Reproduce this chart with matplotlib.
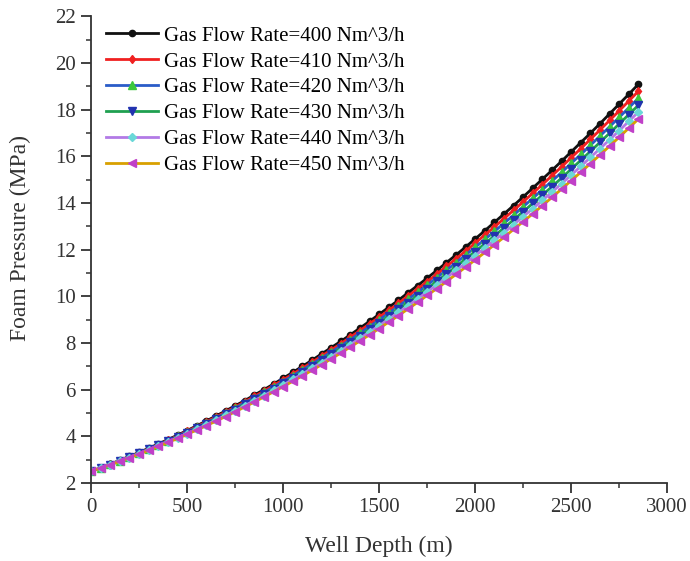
import numpy as np
import matplotlib
matplotlib.use("Agg")
import matplotlib.pyplot as plt
from matplotlib.ticker import MultipleLocator

plt.rcParams['font.family'] = ['Liberation Serif', 'DejaVu Serif']

# well depth (m), one sample every 50 m
depth = list(range(0, 2851, 50))

# foam pressure (MPa)
p400 = [2.50, 2.65, 2.81, 2.97, 3.14, 3.31, 3.49, 3.67, 3.86, 4.05, 4.25, 4.45, 4.66, 4.87, 5.09,
        5.31, 5.53, 5.77, 6.00, 6.24, 6.49, 6.74, 7.00, 7.26, 7.53, 7.80, 8.07, 8.35, 8.64, 8.93,
        9.23, 9.53, 9.83, 10.15, 10.46, 10.78, 11.11, 11.44, 11.77, 12.11, 12.46, 12.81, 13.17,
        13.53, 13.89, 14.26, 14.64, 15.02, 15.40, 15.79, 16.19, 16.59, 16.99, 17.40, 17.82, 18.24,
        18.66, 19.09]
p410 = [2.50, 2.65, 2.80, 2.96, 3.13, 3.30, 3.47, 3.65, 3.83, 4.02, 4.22, 4.42, 4.62, 4.83, 5.04,
        5.26, 5.48, 5.71, 5.94, 6.18, 6.42, 6.67, 6.92, 7.17, 7.44, 7.70, 7.97, 8.25, 8.53, 8.82,
        9.11, 9.40, 9.70, 10.01, 10.32, 10.63, 10.95, 11.28, 11.61, 11.94, 12.28, 12.63, 12.97,
        13.33, 13.69, 14.05, 14.42, 14.79, 15.17, 15.55, 15.94, 16.33, 16.73, 17.13, 17.54, 17.95,
        18.37, 18.79]
p420 = [2.50, 2.65, 2.80, 2.96, 3.12, 3.28, 3.45, 3.63, 3.81, 4.00, 4.19, 4.38, 4.58, 4.78, 4.99,
        5.21, 5.43, 5.65, 5.88, 6.11, 6.35, 6.59, 6.84, 7.09, 7.35, 7.61, 7.87, 8.14, 8.42, 8.70,
        8.99, 9.28, 9.57, 9.87, 10.17, 10.48, 10.80, 11.12, 11.44, 11.77, 12.10, 12.44, 12.78,
        13.13, 13.48, 13.84, 14.20, 14.57, 14.94, 15.31, 15.70, 16.08, 16.47, 16.87, 17.27, 17.67,
        18.08, 18.49]
p430 = [2.50, 2.64, 2.79, 2.95, 3.10, 3.27, 3.44, 3.61, 3.78, 3.97, 4.15, 4.34, 4.54, 4.74, 4.94,
        5.15, 5.37, 5.59, 5.81, 6.04, 6.27, 6.51, 6.75, 7.00, 7.25, 7.51, 7.77, 8.04, 8.31, 8.58,
        8.86, 9.15, 9.44, 9.73, 10.03, 10.33, 10.64, 10.95, 11.27, 11.60, 11.92, 12.25, 12.59,
        12.93, 13.28, 13.63, 13.98, 14.34, 14.70, 15.07, 15.45, 15.83, 16.21, 16.60, 16.99, 17.39,
        17.79, 18.19]
p440 = [2.50, 2.64, 2.79, 2.94, 3.09, 3.25, 3.42, 3.59, 3.76, 3.94, 4.12, 4.31, 4.50, 4.70, 4.90,
        5.10, 5.32, 5.53, 5.75, 5.97, 6.20, 6.44, 6.67, 6.92, 7.16, 7.41, 7.67, 7.93, 8.20, 8.47,
        8.74, 9.02, 9.31, 9.59, 9.89, 10.19, 10.49, 10.79, 11.11, 11.42, 11.74, 12.07, 12.40,
        12.73, 13.07, 13.42, 13.76, 14.11, 14.47, 14.83, 15.20, 15.57, 15.95, 16.33, 16.71, 17.10,
        17.50, 17.90]
p450 = [2.50, 2.64, 2.78, 2.93, 3.08, 3.24, 3.40, 3.57, 3.74, 3.91, 4.09, 4.27, 4.46, 4.65, 4.85,
        5.05, 5.26, 5.47, 5.69, 5.91, 6.13, 6.36, 6.59, 6.83, 7.07, 7.32, 7.57, 7.83, 8.09, 8.35,
        8.62, 8.90, 9.17, 9.46, 9.74, 10.04, 10.33, 10.63, 10.94, 11.25, 11.56, 11.88, 12.21,
        12.53, 12.87, 13.20, 13.54, 13.89, 14.24, 14.60, 14.96, 15.32, 15.69, 16.06, 16.44, 16.82,
        17.21, 17.60]

rates = [400, 410, 420, 430, 440, 450]
series = [p400, p410, p420, p430, p440, p450]
line_colors = ['#111111', '#f02020', '#2a5cc8', '#1fa050', '#b27ae6', '#d8a000']
marker_colors = ['#111111', '#f02020', '#3cc83c', '#2233b0', '#6ad8d8', '#c040c8']
markers = ['o', 'd', '^', 'v', 'D', '<']
msizes = [4.5, 4.5, 6, 6, 4.5, 6]

fig = plt.figure(figsize=(6.9, 5.61), dpi=100)
ax = fig.add_axes([0.132, 0.139, 0.835, 0.832])

for r, p, lc, mc, m, ms in zip(rates, series, line_colors, marker_colors, markers, msizes):
    ax.plot(depth, p, color=lc, lw=2, marker=m, ms=ms, mfc=mc, mec=mc,
            label=f'Gas Flow Rate={r} Nm^3/h')

ax.set_xlim(0, 3000)
ax.set_ylim(2, 22)
ax.xaxis.set_major_locator(MultipleLocator(500))
ax.xaxis.set_minor_locator(MultipleLocator(250))
ax.yaxis.set_major_locator(MultipleLocator(2))
ax.yaxis.set_minor_locator(MultipleLocator(1))
ax.spines['top'].set_visible(False)
ax.spines['right'].set_visible(False)
for s in ['left', 'bottom']:
    ax.spines[s].set_linewidth(1.3)
    ax.spines[s].set_color('#333333')
ax.tick_params(which='major', direction='out', length=7, width=1.3, labelsize=15,
               colors='#333333', pad=4)
ax.tick_params(which='minor', direction='out', length=3.5, width=1.1, colors='#333333')

ax.set_xlabel('Well Depth (m)', fontsize=17, color='#333333')
ax.set_ylabel('Foam Pressure (MPa)', fontsize=17, color='#333333')
ax.xaxis.set_label_coords(0.5, -0.113)
ax.yaxis.set_label_coords(-0.104, 0.525)

ax.legend(loc='upper left', bbox_to_anchor=(0.0, 1.01), frameon=False, fontsize=15,
          handlelength=2.5, handletextpad=0.3, labelspacing=0.3, borderaxespad=0.3)

fig.savefig('out.png', dpi=100)
